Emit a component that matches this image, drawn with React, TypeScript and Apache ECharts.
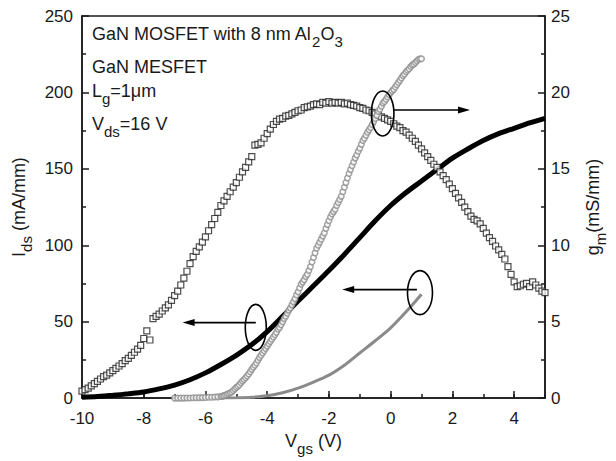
import React, { useEffect, useRef } from "react";
import * as echarts from "echarts";

// ---- Data ----
// MOSFET Ids (left axis), black thick line, Vgs step 0.5 from -10 to 5
const vgsMosfetLine = [-10, -9.5, -9, -8.5, -8, -7.5, -7, -6.5, -6, -5.5, -5, -4.5, -4, -3.5, -3, -2.5, -2, -1.5, -1, -0.5, 0, 0.5, 1, 1.5, 2, 2.5, 3, 3.5, 4, 4.5, 5];
const mosfetIds = [0.5, 1.0, 1.8, 2.8, 4.0, 6.0, 8.5, 12, 16.5, 22, 28, 35, 43.5, 53.5, 63.5, 73.5, 83.5, 94, 105, 116, 126, 134.5, 142, 149.5, 157, 163, 168.5, 173, 176.5, 180, 183];

// MESFET Ids (left axis), gray line
const vgsMesfetLine = [-5.5, -5, -4.5, -4, -3.5, -3, -2.5, -2, -1.5, -1, -0.5, 0, 0.5, 1];
const mesfetIds = [0, 0.2, 0.6, 1.5, 3.5, 6.5, 10.5, 15, 21.5, 29.5, 37.5, 46, 56.5, 68];

// MOSFET gm (right axis), open squares, Vgs from -10 step 0.1
const mosfetGmStart = -10;
const mosfetGmStep = 0.1;
const mosfetGm = [
  0.45, 0.55, 0.65, 0.8, 0.95, 1.1, 1.25, 1.4, 1.5, 1.65,
  1.8, 1.95, 2.1, 2.25, 2.45, 2.6, 2.8, 3.0, 3.2, 3.45,
  3.9, 4.4, 3.8, 5.2, 5.35, 5.5, 5.7, 5.9, 6.1, 6.4,
  6.7, 7.0, 7.4, 7.85, 8.3, 8.8, 9.25, 9.6, 9.9, 10.2,
  10.55, 10.95, 11.35, 11.75, 12.15, 12.6, 12.9, 13.2, 13.5, 13.8,
  14.1, 14.45, 14.8, 15.1, 15.45, 15.8, 16.55, 16.6, 16.7, 17.0,
  17.3, 17.6, 17.9, 18.1, 18.25, 18.3, 18.45, 18.5, 18.6, 18.7,
  18.8, 18.85, 19.0, 19.05, 19.1, 19.2, 19.25, 19.2, 19.35, 19.3,
  19.4, 19.3, 19.35, 19.3, 19.35, 19.25, 19.3, 19.2, 19.15, 19.1,
  19.0, 18.95, 18.85, 18.8, 18.7, 18.6, 18.5, 18.4, 18.3, 18.2,
  18.1, 17.95, 17.8, 17.7, 17.5, 17.4, 17.2, 17.0, 16.8, 16.55,
  16.3, 16.05, 15.8, 15.55, 15.3, 15.1, 14.8, 14.55, 14.3, 14.0,
  13.7, 13.4, 13.1, 12.8, 12.5, 12.2, 11.9, 11.7, 11.6, 11.4,
  11.1, 10.8, 10.5, 10.25, 9.95, 9.7, 9.4, 9.1, 8.6, 8.1,
  7.6, 7.3, 7.35, 7.45, 7.5, 7.3, 7.6, 7.4, 7.2, 7.0,
  6.9,
];

// MESFET gm (right axis), open gray circles
const mesfetGmLowStart = -7.0;
const mesfetGmLowStep = 0.1;
const mesfetGmLow = [0, 0, 0, 0, 0.01, 0.01, 0.02, 0.02, 0.03, 0.03, 0.04, 0.05, 0.05, 0.07, 0.08];
const mesfetGmHighStart = -5.5;
const mesfetGmHighStep = 0.05;
const mesfetGmHigh = [
  0.1, 0.13, 0.16, 0.2, 0.25, 0.3, 0.35, 0.4, 0.5, 0.6,
  0.7, 0.78, 0.88, 1.0, 1.12, 1.22, 1.33, 1.45, 1.58, 1.72,
  1.88, 2.02, 2.15, 2.3, 2.48, 2.65, 2.8, 2.95, 3.1, 3.25,
  3.4, 3.55, 3.7, 3.85, 4.0, 4.15, 4.3, 4.5, 4.62, 4.8,
  5.0, 5.2, 5.35, 5.55, 5.75, 5.9, 6.1, 6.3, 6.5, 6.75,
  6.95, 7.2, 7.45, 7.6, 7.75, 7.95, 8.1, 8.35, 8.6, 8.9,
  9.2, 9.5, 9.8, 10.0, 10.2, 10.4, 10.6, 10.8, 11.1, 11.35,
  11.6, 11.85, 12.05, 12.2, 12.35, 12.6, 12.8, 13.0, 13.2, 13.5,
  13.8, 14.1, 14.4, 14.7, 14.95, 15.2, 15.45, 15.7, 15.9, 16.15,
  16.35, 16.6, 16.85, 17.0, 17.2, 17.4, 17.55, 17.7, 17.9, 18.1,
  18.3, 18.5, 18.75, 18.9, 19.1, 19.3, 19.4, 19.55, 19.7, 19.85,
  20.0, 20.1, 20.2, 20.35, 20.5, 20.65, 20.8, 20.95, 21.1, 21.2,
  21.35, 21.45, 21.55, 21.7, 21.8, 21.85, 21.95, 22.05, 22.15, 22.2,
  22.2,
];

// Annotations (data coordinates on left axis)
const ellipseCenters: [number, number][] = [[-4.37, 46.3], [0.95, 69], [-0.26, 186.2]];
const arrowFrom: [number, number][] = [[-4.37, 49.4], [0.85, 71], [0.095, 188.5]];
const arrowTo: [number, number][] = [[-6.74, 49.4], [-1.57, 71], [2.57, 188.5]];
const ellipseRadii: [number, number][] = [[10.5, 23], [12.5, 22], [11.3, 22.5]];

const FONT = "'Liberation Sans', Arial, Helvetica, sans-serif";
const INK = "#1a1a1a";

const richText = {
  a: { fontSize: 18, lineHeight: 20, verticalAlign: "top", fontFamily: FONT, color: INK },
  s: { fontSize: 15, lineHeight: 20, padding: [9, 0, 0, 0], verticalAlign: "top", fontFamily: FONT, color: INK },
};

function grid(start: number, step: number, vals: number[]) {
  return vals.map((v, i) => [+(start + i * step).toFixed(2), v]);
}

export default function App() {
  const ref = useRef<HTMLDivElement>(null);
  useEffect(() => {
    if (!ref.current) return;
    const chart = echarts.init(ref.current, undefined, { renderer: "svg" });
    const axisLine = { onZero: false, lineStyle: { color: INK, width: 1.5 } };
    const option: any = {
      animation: false,
      backgroundColor: "#fff",
      grid: { left: 82, right: 59, top: 16, bottom: 60, show: true, borderColor: INK, borderWidth: 1.5, backgroundColor: "transparent" },
      xAxis: [
        {
          type: "value", min: -10, max: 5, interval: 2, position: "bottom",
          axisLine, axisTick: { inside: true, length: 7, lineStyle: { color: INK, width: 1.5 } },
          axisLabel: { showMaxLabel: false, fontSize: 17, margin: 12, color: INK, fontFamily: FONT },
          splitLine: { show: false },
          name: "{a|V}{s|gs}{a| (V)}", nameLocation: "middle", nameGap: 31,
          nameTextStyle: { rich: richText },
        },
        {
          type: "value", min: -10, max: 5, interval: 1, position: "bottom",
          axisLine: { show: false, onZero: false }, axisTick: { inside: true, length: 4, lineStyle: { color: INK, width: 1.5 } },
          axisLabel: { show: false }, splitLine: { show: false },
        },
      ],
      yAxis: [
        {
          type: "value", min: 0, max: 250, interval: 50, position: "left",
          axisLine: { show: true, ...axisLine },
          axisTick: { show: true, inside: true, length: 7, lineStyle: { color: INK, width: 1.5 } },
          minorTick: { show: true, splitNumber: 2, length: 4, lineStyle: { color: INK, width: 1.5 } },
          axisLabel: { fontSize: 17, margin: 9, color: INK, fontFamily: FONT },
          splitLine: { show: false },
          name: "{a|I}{s|ds}{a| (mA/mm)}", nameLocation: "middle", nameGap: 50, nameRotate: 90,
          nameTextStyle: { rich: richText },
        },
        {
          type: "value", min: 0, max: 25, interval: 5, position: "right",
          axisLine: { show: true, ...axisLine },
          axisTick: { show: true, inside: true, length: 7, lineStyle: { color: INK, width: 1.5 } },
          minorTick: { show: true, splitNumber: 2, length: 4, lineStyle: { color: INK, width: 1.5 } },
          axisLabel: { fontSize: 17, margin: 6, color: INK, fontFamily: FONT },
          splitLine: { show: false },
          name: "{a|g}{s|m}{a|(mS/mm)}", nameLocation: "middle", nameGap: 39, nameRotate: 90,
          nameTextStyle: { rich: richText },
        },
      ],
      series: [
        {
          name: "MOSFET Ids", type: "line", xAxisIndex: 0, yAxisIndex: 0, smooth: 0.3, showSymbol: false,
          data: vgsMosfetLine.map((x, i) => [x, mosfetIds[i]]),
          lineStyle: { color: "#000", width: 5 }, z: 2,
        },
        {
          name: "MESFET Ids", type: "line", xAxisIndex: 0, yAxisIndex: 0, smooth: 0.3, showSymbol: false,
          data: vgsMesfetLine.map((x, i) => [x, mesfetIds[i]]),
          lineStyle: { color: "#8a8a8a", width: 3 }, z: 3,
        },
        {
          name: "MOSFET gm", type: "scatter", xAxisIndex: 0, yAxisIndex: 1, symbol: "rect", symbolSize: 6,
          data: grid(mosfetGmStart, mosfetGmStep, mosfetGm),
          itemStyle: { color: "#fff", borderColor: "#222", borderWidth: 1.2 }, z: 4,
        },
        {
          name: "MESFET gm", type: "scatter", xAxisIndex: 0, yAxisIndex: 1, symbol: "circle", symbolSize: 5.5,
          data: [...grid(mesfetGmLowStart, mesfetGmLowStep, mesfetGmLow), ...grid(mesfetGmHighStart, mesfetGmHighStep, mesfetGmHigh)],
          itemStyle: { color: "#fff", borderColor: "#8c8c8c", borderWidth: 1.5 }, z: 5,
        },
      ],
    };
    chart.setOption(option);

    const px = (p: [number, number]) => chart.convertToPixel({ xAxisIndex: 0, yAxisIndex: 0 }, p) as number[];
    const graphics: any[] = [];
    ellipseCenters.forEach((c, i) => {
      const cp = px(c);
      graphics.push({
        type: "ellipse", z: 100,
        shape: { cx: cp[0], cy: cp[1], rx: ellipseRadii[i][0], ry: ellipseRadii[i][1] },
        style: { fill: "none", stroke: "#000", lineWidth: 1.6 },
      });
      const a = px(arrowFrom[i]);
      const b = px(arrowTo[i]);
      const dir = Math.sign(b[0] - a[0]);
      const headLen = 12;
      graphics.push({
        type: "line", z: 100,
        shape: { x1: a[0], y1: a[1], x2: b[0] - dir * headLen + dir * 1, y2: b[1] },
        style: { stroke: "#000", lineWidth: 1.6 },
      });
      graphics.push({
        type: "polygon", z: 100,
        shape: { points: [[b[0], b[1]], [b[0] - dir * headLen, b[1] - 3.5], [b[0] - dir * headLen, b[1] + 3.5]] },
        style: { fill: "#000" },
      });
    });
    const textLines = [
      { t: "{a|GaN MOSFET with 8 nm Al}{s|2}{a|O}{s|3}", y: 25 },
      { t: "{a|GaN MESFET}", y: 58 },
      { t: "{a|L}{s|g}{a|=1μm}", y: 82 },
      { t: "{a|V}{s|ds}{a|=16 V}", y: 115 },
    ];
    textLines.forEach((l) => {
      graphics.push({
        type: "text", x: 92, y: l.y, z: 100,
        style: { text: l.t, rich: richText, align: "left", verticalAlign: "top", fill: INK, fontSize: 18, fontFamily: FONT },
      });
    });
    chart.setOption({ graphic: graphics });

    return () => chart.dispose();
  }, []);
  return <div ref={ref} style={{ position: "fixed", left: 0, top: 0, width: 616, height: 461 }} />;
}
